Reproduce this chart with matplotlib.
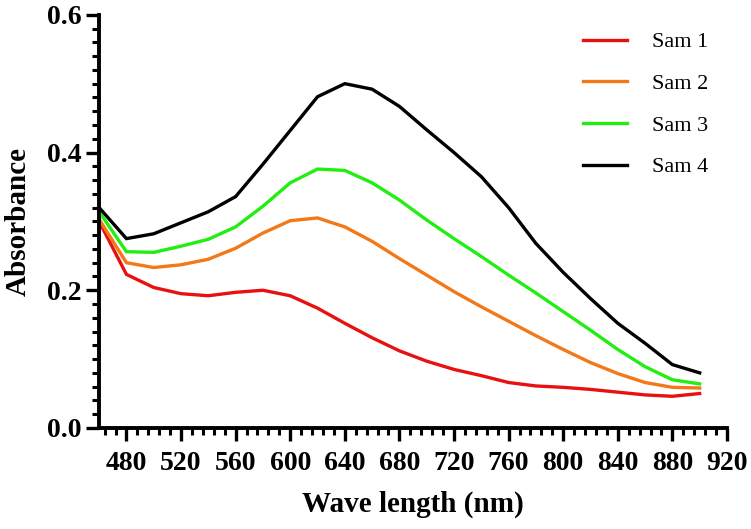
import matplotlib
matplotlib.use("Agg")
import matplotlib.pyplot as plt
from matplotlib.ticker import MultipleLocator, AutoMinorLocator

plt.rcParams['font.family'] = ['Liberation Serif', 'DejaVu Serif']

# wavelength (nm) and absorbance
wavelength = [460, 480, 500, 520, 540, 560, 580, 600, 620, 640, 660, 680,
              700, 720, 740, 760, 780, 800, 820, 840, 860, 880, 900]
sam1 = [0.300, 0.223, 0.204, 0.195, 0.192, 0.197, 0.200, 0.192, 0.174, 0.152, 0.131, 0.112,
        0.097, 0.085, 0.076, 0.066, 0.061, 0.059, 0.056, 0.052, 0.048, 0.046, 0.050]
sam2 = [0.303, 0.240, 0.233, 0.237, 0.245, 0.261, 0.283, 0.301, 0.305, 0.292, 0.271, 0.246,
        0.222, 0.198, 0.176, 0.155, 0.134, 0.114, 0.095, 0.079, 0.066, 0.059, 0.058]
sam3 = [0.314, 0.256, 0.255, 0.264, 0.274, 0.292, 0.322, 0.356, 0.376, 0.374, 0.356, 0.331,
        0.302, 0.275, 0.249, 0.222, 0.196, 0.169, 0.142, 0.114, 0.089, 0.070, 0.064]
sam4 = [0.320, 0.275, 0.282, 0.298, 0.314, 0.336, 0.383, 0.432, 0.481, 0.500, 0.492, 0.467,
        0.433, 0.400, 0.365, 0.320, 0.268, 0.226, 0.188, 0.152, 0.123, 0.092, 0.080]

labels = ["Sam 1", "Sam 2", "Sam 3", "Sam 4"]
colors = ["#e81010", "#f27818", "#22ee11", "#000000"]

fig = plt.figure(figsize=(7.51, 5.29), dpi=100)
ax = fig.add_axes([0.132, 0.191, 0.836, 0.781])

for y, lab, c in zip([sam1, sam2, sam3, sam4], labels, colors):
    ax.plot(wavelength, y, color=c, lw=2.4, label=lab, solid_joinstyle="miter")

ax.set_xlim(460, 920)
ax.set_ylim(0, 0.6)
ax.xaxis.set_major_locator(MultipleLocator(40))
ax.xaxis.set_minor_locator(AutoMinorLocator(5))
ax.yaxis.set_major_locator(MultipleLocator(0.2))
ax.yaxis.set_minor_locator(AutoMinorLocator(10))
ax.yaxis.set_major_formatter(plt.FormatStrFormatter("%.1f"))

for s in ["top", "right"]:
    ax.spines[s].set_visible(False)
for s in ["left", "bottom"]:
    ax.spines[s].set_linewidth(2.8)

ax.tick_params(which="major", length=9.5, width=2.4, direction="out")
ax.tick_params(which="minor", length=5, width=2.2, direction="out")
ax.tick_params(axis="x", which="major", pad=7)
ax.tick_params(axis="y", which="major", pad=3)
for t in ax.get_xticklabels() + ax.get_yticklabels():
    t.set_fontsize(20)
    t.set_fontweight("bold")

ax.set_xlabel("Wave length (nm)", fontsize=21, fontweight="bold", labelpad=11)
ax.set_ylabel("Absorbance", fontsize=21, fontweight="bold", labelpad=11)

ax.legend(frameon=False, loc="upper left", bbox_to_anchor=(0.776, 0.94),
          bbox_transform=fig.transFigure, fontsize=16, handlelength=2.0,
          handletextpad=1.1, labelspacing=0.95, borderpad=0, borderaxespad=0)

fig.savefig("out.png", dpi=100)
